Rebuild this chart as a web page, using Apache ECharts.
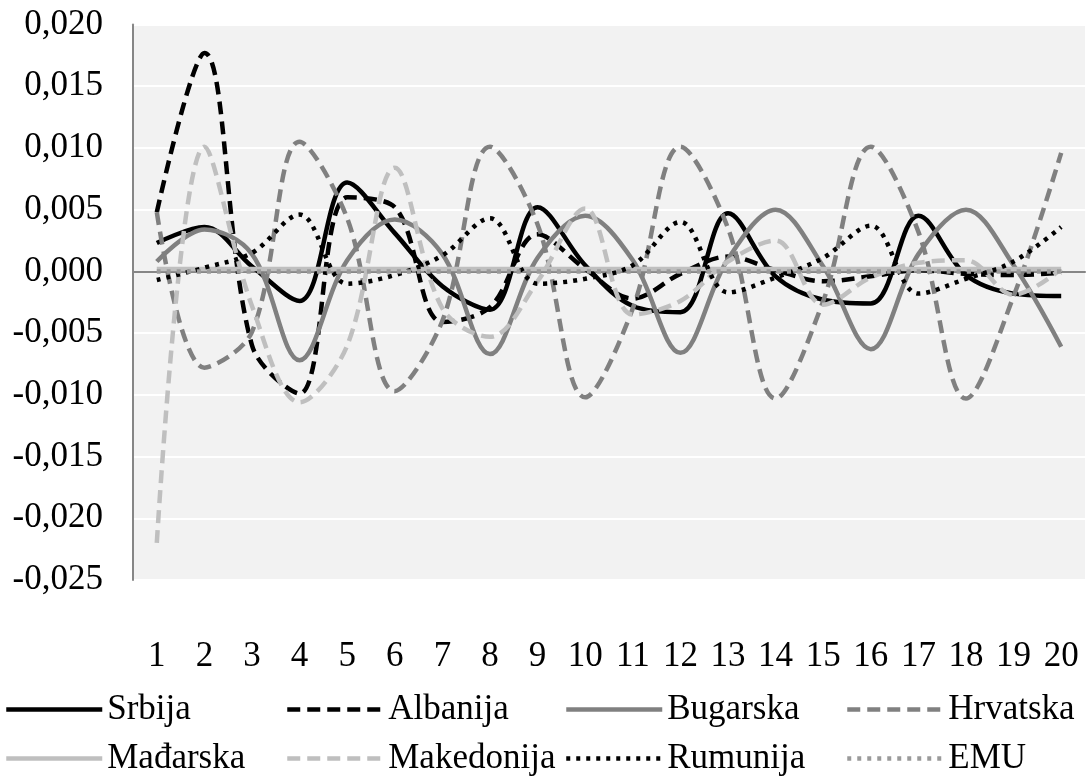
<!DOCTYPE html>
<html><head><meta charset="utf-8">
<script src="https://cdn.jsdelivr.net/npm/echarts@6/dist/echarts.min.js"></script>
<style>html,body{margin:0;padding:0;background:#fff}#c{width:1087px;height:780px}</style>
</head><body><div id="c"></div>
<script>
const categories = ['1','2','3','4','5','6','7','8','9','10','11','12','13','14','15','16','17','18','19','20'];
const seriesNames = ['Srbija','Albanija','Bugarska','Hrvatska','Mađarska','Makedonija','Rumunija','EMU'];
const srbija     = [0.0023, 0.0036, 0.0004, -0.0024, 0.0072, 0.0031, -0.0012, -0.0031, 0.0052, 0.0005, -0.0028, -0.0033, 0.0047, -0.0004, -0.0023, -0.0026, 0.0045, -0.0003, -0.0018, -0.0020];
const albanija   = [0.0048, 0.0177, -0.0060, -0.0099, 0.0060, 0.0052, -0.0041, -0.0029, 0.0030, 0.0002, -0.0022, -0.0002, 0.0012, 0.0001, -0.0008, -0.0004, 0.0001, -0.0002, -0.0003, -0.0001];
const bugarska   = [0.0008, 0.0034, 0.0014, -0.0072, 0.0009, 0.0042, 0.0014, -0.0067, 0.0011, 0.0045, 0.0009, -0.0066, 0.0010, 0.0050, 0.0004, -0.0063, 0.0014, 0.0050, 0.0005, -0.0061];
const hrvatska   = [0.0048, -0.0078, -0.0049, 0.0105, 0.0043, -0.0097, -0.0040, 0.0101, 0.0038, -0.0102, -0.0030, 0.0101, 0.0035, -0.0103, -0.0024, 0.0101, 0.0032, -0.0103, -0.0020, 0.0096];
const madjarska  = [0.0002, 0.0002, 0.0002, 0.0002, 0.0002, 0.0002, 0.0002, 0.0002, 0.0002, 0.0002, 0.0002, 0.0002, 0.0002, 0.0002, 0.0002, 0.0002, 0.0002, 0.0002, 0.0002, 0.0002];
const makedonija = [-0.0220, 0.0101, -0.0028, -0.0106, -0.0060, 0.0084, -0.0030, -0.0053, -0.0008, 0.0051, -0.0035, -0.0024, 0.0008, 0.0025, -0.0027, -0.0005, 0.0007, 0.0009, -0.0019, 0.0002];
const rumunija   = [-0.0007, 0.0003, 0.0015, 0.0046, -0.0010, -0.0003, 0.0013, 0.0043, -0.0010, -0.0006, 0.0005, 0.0040, -0.0017, -0.0005, 0.0011, 0.0037, -0.0018, -0.0006, 0.0008, 0.0036];
const emu        = [0.0000, 0.0000, 0.0000, 0.0000, 0.0000, 0.0000, 0.0000, 0.0000, 0.0000, 0.0000, 0.0000, 0.0000, 0.0000, 0.0000, 0.0000, 0.0000, 0.0000, 0.0000, 0.0000, 0.0000];
const yMin = -0.025, yMax = 0.020, yStep = 0.005;

const FONT = "'Liberation Serif', 'Times New Roman', serif";
const seriesData = [srbija, albanija, bugarska, hrvatska, madjarska, makedonija, rumunija, emu];
const styles = [
  {color:'#000000', type:'solid'},
  {color:'#000000', type:[13,7]},
  {color:'#808080', type:'solid'},
  {color:'#808080', type:[13,7]},
  {color:'#BFBFBF', type:'solid'},
  {color:'#BFBFBF', type:[13,7]},
  {color:'#000000', type:[4,6]},
  {color:'#9A9A9A', type:[4,6]}
];
const LW = 4.5;
const legendLayout = [[4,692],[285,692],[564,692],[845,692],[4,741],[285,741],[564,741],[845,741]];

const chart = echarts.init(document.getElementById('c'), null, {renderer:'canvas'});
chart.setOption({
  animation: false,
  backgroundColor: '#ffffff',
  grid: {left:133, right:2, top:24.5, bottom:200, show:true, backgroundColor:'#F2F2F2', borderWidth:0, containLabel:false},
  legend: seriesNames.map((n,i)=>({
    data:[n], left:legendLayout[i][0], top:legendLayout[i][1], orient:'horizontal',
    itemWidth:96, itemHeight:16, itemGap:0, padding:0, selectedMode:false,
    itemStyle:{opacity:0},
    lineStyle:{width:LW},
    textStyle:{fontFamily:FONT, fontSize:35, color:'#000'}
  })),
  xAxis: [
    {type:'category', data:categories, boundaryGap:true, position:'bottom',
     axisLine:{show:false, onZero:false}, axisTick:{show:false},
     axisLabel:{fontFamily:FONT, fontSize:35, color:'#000', margin:59, interval:0},
     splitLine:{show:false}},
    {type:'category', data:categories, boundaryGap:true, position:'bottom',
     axisLine:{show:true, onZero:true, lineStyle:{color:'#868686', width:2}},
     axisTick:{show:false}, axisLabel:{show:false}, splitLine:{show:false}}
  ],
  yAxis: {type:'value', min:yMin, max:yMax, interval:yStep,
    axisLine:{show:true, lineStyle:{color:'#868686', width:2}},
    axisTick:{show:false},
    axisLabel:{fontFamily:FONT, fontSize:35, color:'#000', margin:30,
      formatter:v=>{const s=Math.abs(v)<1e-9?'0,000':v.toFixed(3).replace('.',','); return s;}},
    splitLine:{show:true, lineStyle:{color:'#FFFFFF', width:2}}
  },
  series: seriesNames.map((n,i)=>({
    name:n, type:'line', xAxisIndex:0, data:seriesData[i], smooth:0.35,
    symbol:'none', showSymbol:false,
    lineStyle:{color:styles[i].color, type:styles[i].type, width:LW},
    itemStyle:{color:styles[i].color},
    z:2+i
  }))
});
</script></body></html>
